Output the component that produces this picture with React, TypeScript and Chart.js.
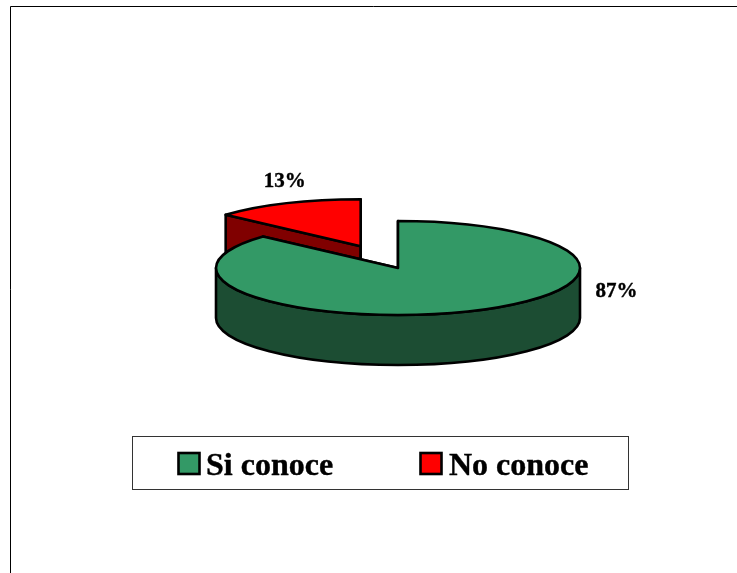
import React, { useEffect, useRef } from "react";
import { Chart, registerables } from "chart.js";

Chart.register(...registerables);

const categories = ["Si conoce", "No conoce"];
const shares = [86.7, 13.3];
const topColors = ["#339966", "#FF0000"];
const sideColors = ["#1C4D33", "#800000"];
const explodeBy = [0, 92];
const labelOffsets = [
  [218.5, 22],
  [-76, -66],
];
const legendSwatchX = [178.5, 420.5];
const legendTextX = [206, 449];

const FONT = '"Liberation Serif", "Times New Roman", serif';
const TILT = 47 / 182;
const DEPTH = 50;
const STROKE = "#000000";
const LINE = 2.6;

function screenCenter(arc: any, cy: number) {
  return { x: arc.x, y: cy + (arc.y - cy) * TILT };
}

function boldText(ctx: CanvasRenderingContext2D, text: string, x: number, y: number) {
  ctx.fillStyle = "#000000";
  ctx.strokeStyle = "#000000";
  ctx.lineWidth = 0.4;
  ctx.fillText(text, x, y);
  ctx.strokeText(text, x, y);
}

const pie3d = {
  id: "pie3d",
  afterDatasetUpdate(chart: any) {
    chart.getDatasetMeta(0).data.forEach((arc: any, i: number) => {
      const mid = (arc.startAngle + arc.endAngle) / 2;
      arc.x += Math.cos(mid) * explodeBy[i];
      arc.y += Math.sin(mid) * explodeBy[i];
    });
  },
  beforeDatasetsDraw(chart: any) {
    const { ctx, chartArea } = chart;
    const cy = (chartArea.top + chartArea.bottom) / 2;
    const arcs = chart.getDatasetMeta(0).data;
    ctx.save();
    ctx.lineWidth = LINE;
    ctx.lineJoin = "round";
    ctx.strokeStyle = STROKE;
    // exploded slice first, so that the main slice covers it
    [...arcs.keys()].reverse().forEach((i: number) => {
      const arc = arcs[i];
      const c = screenCenter(arc, cy);
      const rx = arc.outerRadius;
      const ry = rx * TILT;
      ctx.fillStyle = sideColors[i];
      [arc.startAngle, arc.endAngle].forEach((a: number) => {
        const px = c.x + rx * Math.cos(a);
        const py = c.y + ry * Math.sin(a);
        ctx.beginPath();
        ctx.moveTo(c.x, c.y);
        ctx.lineTo(px, py);
        ctx.lineTo(px, py + DEPTH);
        ctx.lineTo(c.x, c.y + DEPTH);
        ctx.closePath();
        ctx.fill();
        ctx.stroke();
      });
      // the part of the rim that faces the viewer
      for (let turn = -1; turn <= 1; turn++) {
        const from = Math.max(arc.startAngle, turn * 2 * Math.PI);
        const to = Math.min(arc.endAngle, turn * 2 * Math.PI + Math.PI);
        if (to <= from) continue;
        ctx.beginPath();
        ctx.ellipse(c.x, c.y, rx, ry, 0, from, to);
        ctx.ellipse(c.x, c.y + DEPTH, rx, ry, 0, to, from, true);
        ctx.closePath();
        ctx.fill();
        ctx.stroke();
      }
    });
    ctx.restore();
    ctx.save();
    ctx.translate(0, cy);
    ctx.scale(1, TILT);
    ctx.translate(0, -cy);
  },
  afterDatasetsDraw(chart: any) {
    const { ctx, chartArea } = chart;
    ctx.restore();
    const cy = (chartArea.top + chartArea.bottom) / 2;
    ctx.save();
    ctx.lineWidth = LINE;
    ctx.lineJoin = "round";
    ctx.strokeStyle = STROKE;
    chart.getDatasetMeta(0).data.forEach((arc: any) => {
      const c = screenCenter(arc, cy);
      ctx.beginPath();
      ctx.moveTo(c.x, c.y);
      ctx.ellipse(c.x, c.y, arc.outerRadius, arc.outerRadius * TILT, 0, arc.startAngle, arc.endAngle);
      ctx.closePath();
      ctx.stroke();
    });
    ctx.restore();
  },
  afterDraw(chart: any) {
    const { ctx, chartArea } = chart;
    const cy = (chartArea.top + chartArea.bottom) / 2;
    ctx.save();
    // outer frame, open to the right and the bottom
    ctx.strokeStyle = "#000000";
    ctx.lineWidth = 1;
    ctx.beginPath();
    ctx.moveTo(10.5, 573);
    ctx.lineTo(10.5, 6.5);
    ctx.lineTo(737, 6.5);
    ctx.stroke();
    // value labels
    ctx.font = `bold 21px ${FONT}`;
    ctx.textAlign = "center";
    ctx.textBaseline = "alphabetic";
    chart.getDatasetMeta(0).data.forEach((arc: any, i: number) => {
      const c = screenCenter(arc, cy);
      boldText(ctx, `${Math.round(shares[i])}%`, c.x + labelOffsets[i][0], c.y + labelOffsets[i][1] + 7);
    });
    // legend
    ctx.strokeStyle = "#333333";
    ctx.lineWidth = 1;
    ctx.strokeRect(132.5, 436.5, 496, 53);
    ctx.font = `bold 32px ${FONT}`;
    ctx.textAlign = "left";
    chart.data.labels.forEach((label: string, i: number) => {
      ctx.fillStyle = topColors[i];
      ctx.fillRect(legendSwatchX[i], 453, 21, 21);
      ctx.strokeStyle = STROKE;
      ctx.lineWidth = LINE;
      ctx.strokeRect(legendSwatchX[i], 453, 21, 21);
      boldText(ctx, label, legendTextX[i], 475);
    });
    ctx.restore();
  },
};

export default function App() {
  const ref = useRef<HTMLCanvasElement>(null);
  useEffect(() => {
    const chart = new Chart(ref.current as HTMLCanvasElement, {
      type: "pie",
      data: {
        labels: categories,
        datasets: [
          {
            data: shares,
            backgroundColor: topColors,
            borderWidth: 0,
            clip: false,
          } as any,
        ],
      },
      options: {
        responsive: false,
        animation: false,
        radius: 182,
        layout: { padding: { left: 59, bottom: 37 } },
        plugins: { legend: { display: false }, tooltip: { enabled: false } },
      } as any,
      plugins: [pie3d],
    });
    return () => chart.destroy();
  }, []);
  return (
    <div style={{ position: "absolute", left: 0, top: 0, width: 737, height: 573, overflow: "hidden", background: "#fff" }}>
      <canvas ref={ref} width={737} height={573} style={{ display: "block" }} />
    </div>
  );
}
